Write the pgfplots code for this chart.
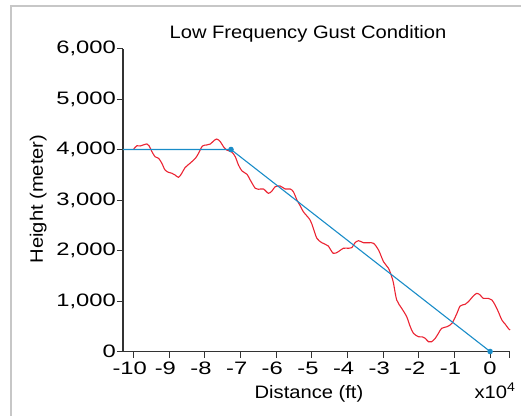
\documentclass[border=0pt]{standalone}
\usepackage{fontspec}
\setmainfont[FakeStretch=1.12]{Liberation Sans}
\newfontfamily\tickfont[FakeStretch=1.32]{Liberation Sans}
\usepackage{pgfplots}
\pgfplotsset{compat=1.18}
\definecolor{bl}{RGB}{25,140,200}
\definecolor{rd}{RGB}{235,35,50}
\newcommand{\tf}{\tickfont\fontsize{18}{20}\selectfont}
\begin{document}
\begin{tikzpicture}
\path[use as bounding box] (-123pt,-63.5pt) rectangle (398pt,351.5pt);
\draw[black!22, line width=1.5pt] (-112pt,-70pt) -- (-112pt,345.5pt) -- (405pt,345.5pt);
\begin{axis}[
 at={(0pt,0pt)}, anchor=south west,
 scale only axis, width=386.7pt, height=303pt,
 xmin=-10.3, xmax=0.55, ymin=0, ymax=6000,
 axis x line*=bottom, axis y line*=left,
 axis line style={draw=black!80, line width=1.1pt, -},
 xtick={-10,-9,-8,-7,-6,-5,-4,-3,-2,-1,0},
 xticklabels={{\llap{-}10},{\llap{-}9},{\llap{-}8},{\llap{-}7},{\llap{-}6},{\llap{-}5},{\llap{-}4},{\llap{-}3},{\llap{-}2},{\llap{-}1},{0}},
 extra x ticks={0.55}, extra x tick labels={},
 ytick={0,1000,2000,3000,4000,5000,6000},
 yticklabels={{0},{1,000},{2,000},{3,000},{4,000},{5,000},{6,000}},
 tick align=outside, major tick length=6pt,
 tick style={black!80, line width=1pt},
 xticklabel style={font=\tf, inner sep=1pt, yshift=-3pt},
 yticklabel style={font=\tf, inner sep=1pt},
 clip=false,
]
\addplot[rd, line width=1.1pt, smooth, tension=0.5] coordinates {
(-10.0,4010) (-9.91,4075) (-9.82,4070) (-9.73,4090) (-9.63,4110) (-9.57,4075)
(-9.49,3960) (-9.40,3857) (-9.30,3825) (-9.21,3727) (-9.12,3594) (-9.02,3548)
(-8.93,3530) (-8.84,3495) (-8.74,3449) (-8.65,3530) (-8.56,3640) (-8.42,3727)
(-8.27,3825) (-8.18,3925) (-8.07,4069) (-7.95,4090) (-7.85,4109) (-7.76,4168)
(-7.67,4208) (-7.57,4155) (-7.48,4055) (-7.39,3990) (-7.25,3950) (-7.15,3857)
(-7.06,3693) (-6.96,3574) (-6.82,3509) (-6.73,3396) (-6.59,3232) (-6.50,3212)
(-6.36,3218) (-6.22,3133) (-6.12,3178) (-6.03,3263) (-5.89,3277) (-5.75,3218)
(-5.61,3218) (-5.52,3164) (-5.42,3000) (-5.33,2887) (-5.24,2768) (-5.05,2604)
(-4.96,2440) (-4.86,2241) (-4.72,2154) (-4.63,2125) (-4.54,2089) (-4.40,1944)
(-4.26,1976) (-4.12,2044) (-3.97,2044) (-3.88,2056) (-3.79,2154) (-3.69,2194)
(-3.55,2154) (-3.41,2154) (-3.27,2142) (-3.13,2010) (-2.99,1778) (-2.85,1647)
(-2.76,1481) (-2.71,1350) (-2.62,1020) (-2.48,855) (-2.34,689) (-2.24,491)
(-2.15,360) (-2.01,293) (-1.90,290) (-1.82,261) (-1.73,194) (-1.64,194)
(-1.54,261) (-1.45,360) (-1.36,459) (-1.21,491) (-1.07,558) (-0.93,756)
(-0.84,901) (-0.70,935) (-0.61,986) (-0.47,1099) (-0.37,1152) (-0.28,1119)
(-0.19,1053) (-0.05,1053) (0.05,1020) (0.14,921) (0.23,788) (0.33,624)
(0.42,545) (0.51,459) (0.56,426)
};
\addplot[bl, line width=1.1pt, mark=*, mark size=2.2pt, mark indices={2,3}] coordinates {
(-10.3,4000) (-7.27,4000) (0,0)
};
\end{axis}
\node[anchor=base, font=\fontsize{18}{20}\selectfont] at (185pt,312.5pt) {Low Frequency Gust Condition};
\node[anchor=base, rotate=90, font=\fontsize{18}{20}\selectfont] at (-80pt,152.5pt) {Height (meter)};
\node[anchor=base, font=\fontsize{18}{20}\selectfont] at (186pt,-46.5pt) {Distance (ft)};
\node[anchor=base, font=\fontsize{18}{20}\selectfont] at (372pt,-46.5pt) {x10\textsuperscript{4}};
\end{tikzpicture}
\end{document}
